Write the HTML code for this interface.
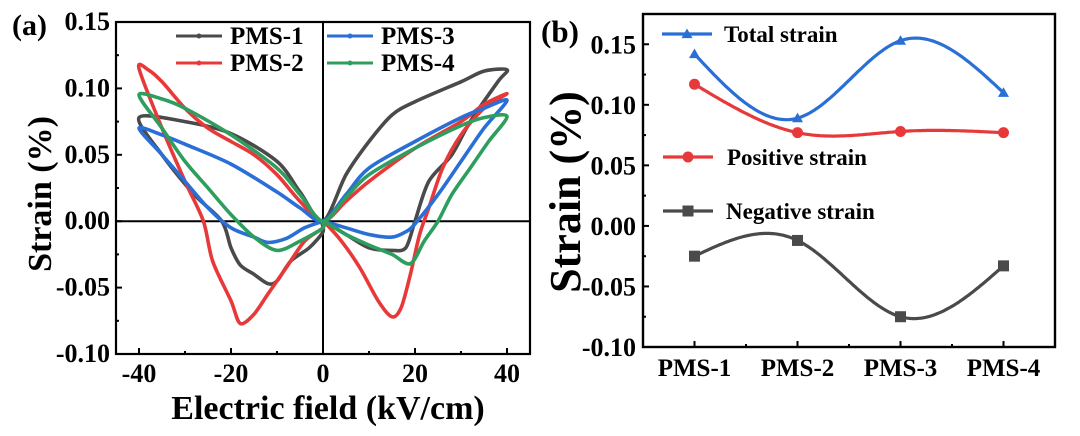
<!DOCTYPE html>
<html><head><meta charset="utf-8">
<style>
html,body{margin:0;padding:0;background:#fff;}
svg{display:block;font-family:"Liberation Serif",serif;font-weight:bold;}
</style></head>
<body>
<svg id="fig" width="1080" height="436" viewBox="0 0 1080 436" xmlns="http://www.w3.org/2000/svg">
<g id="pa"></g>
<g id="pb"></g>
</svg>
<script>
// ---------- Panel (a) data ----------
const aTicksX = [-40, -20, 0, 20, 40];
const aTicksY = [0.15, 0.10, 0.05, 0.00, -0.05, -0.10];
const aTickLabelsY = ["0.15", "0.10", "0.05", "0.00", "-0.05", "-0.10"];
const aSeriesNames = ["PMS-1", "PMS-2", "PMS-3", "PMS-4"];
const aColors = ["#4a4a4a", "#e8393a", "#2a6fd6", "#2e9e5e"];
const pms1X = [0,5,10,15,18,20,23,28,32,38,40, 35,30,20,15,10,5,0, -5,-10,-20,-30,-40, -35,-28,-22,-20,-18,-15,-12,-10,-7,-3,0];
const pms1Y = [0,-0.01,-0.02,-0.022,-0.02,0.0,0.03,0.05,0.075,0.105,0.114, 0.113,0.105,0.09,0.08,0.06,0.035,0, 0.022,0.045,0.066,0.075,0.078, 0.05,0.02,0.0,-0.02,-0.033,-0.04,-0.047,-0.045,-0.03,-0.02,-0.008];
const pms2X = [0,4,8,12,15,17,19,21,23,26,30,35,40, 35,30,20,10,5,0, -5,-10,-15,-20,-25,-30,-35,-38,-40, -35,-30,-26,-24,-20,-18,-15,-12,-8,-4,0];
const pms2Y = [0,-0.015,-0.035,-0.06,-0.072,-0.065,-0.04,-0.01,0.01,0.04,0.065,0.085,0.096, 0.088,0.075,0.055,0.03,0.015,0, 0.015,0.035,0.05,0.06,0.07,0.085,0.105,0.114,0.115, 0.07,0.03,0.0,-0.03,-0.06,-0.077,-0.07,-0.055,-0.035,-0.015,-0.005];
const pms3X = [0,5,10,15,18,20,25,30,35,40, 35,30,20,10,5,0, -5,-10,-20,-30,-35,-40, -35,-30,-25,-20,-15,-12,-8,-4,0];
const pms3Y = [0,-0.005,-0.01,-0.012,-0.008,-0.002,0.02,0.045,0.07,0.091, 0.085,0.078,0.06,0.04,0.02,0, 0.01,0.022,0.043,0.058,0.065,0.07, 0.05,0.03,0.01,-0.005,-0.012,-0.016,-0.013,-0.005,0];
const pms4X = [0,5,10,15,19,22,25,28,32,36,40, 35,30,20,10,5,0, -5,-10,-20,-30,-35,-40, -35,-30,-25,-20,-15,-10,-5,0];
const pms4Y = [0,-0.01,-0.018,-0.025,-0.032,-0.015,0.0,0.02,0.04,0.06,0.079, 0.078,0.072,0.055,0.035,0.018,0, 0.02,0.04,0.065,0.085,0.092,0.095, 0.07,0.045,0.025,0.005,-0.012,-0.022,-0.015,-0.005];
const aSeriesX = [pms1X, pms2X, pms3X, pms4X];
const aSeriesY = [pms1Y, pms2Y, pms3Y, pms4Y];

// ---------- Panel (b) data ----------
const bCategories = ["PMS-1", "PMS-2", "PMS-3", "PMS-4"];
const totalStrain = [0.142, 0.089, 0.153, 0.110];
const positiveStrain = [0.117, 0.077, 0.078, 0.077];
const negativeStrain = [-0.025, -0.012, -0.075, -0.033];
const bTicksY = [0.15, 0.10, 0.05, 0.00, -0.05, -0.10];
const bTickLabelsY = ["0.15", "0.10", "0.05", "0.00", "-0.05", "-0.10"];
const bSeriesNames = ["Total strain", "Positive strain", "Negative strain"];

const NS = "http://www.w3.org/2000/svg";
function mk(tag, attrs, parent) {
  const e = document.createElementNS(NS, tag);
  for (const k in attrs) e.setAttribute(k, attrs[k]);
  parent.appendChild(e);
  return e;
}

// ===== Panel A =====
const pa = document.getElementById("pa");
const A = {l:116, r:530, t:22, b:354, xmin:-45, xmax:45, ymin:-0.10, ymax:0.15};
const ax = v => A.l + (v - A.xmin) / (A.xmax - A.xmin) * (A.r - A.l);
const ay = v => A.b - (v - A.ymin) / (A.ymax - A.ymin) * (A.b - A.t);

let z1 = mk("line", {x1:ax(0), x2:ax(0), y1:A.t, y2:A.b, stroke:"#000", "stroke-width":2}, pa);


let z2 = mk("line", {x1:A.l, x2:A.r, y1:ay(0), y2:ay(0), stroke:"#000", "stroke-width":2}, pa);



function catmullClosed(pts) {
  const n = pts.length;
  let d = "M" + pts[0][0].toFixed(1) + "," + pts[0][1].toFixed(1);
  for (let i = 0; i < n; i++) {
    const p0 = pts[(i - 1 + n) % n], p1 = pts[i], p2 = pts[(i + 1) % n], p3 = pts[(i + 2) % n];
    const k = 0.3;
    const c1 = [p1[0] + (p2[0] - p0[0]) * k / 2, p1[1] + (p2[1] - p0[1]) * k / 2];
    const c2 = [p2[0] - (p3[0] - p1[0]) * k / 2, p2[1] - (p3[1] - p1[1]) * k / 2];
    d += "C" + c1[0].toFixed(1) + "," + c1[1].toFixed(1) + " " + c2[0].toFixed(1) + "," + c2[1].toFixed(1) + " " + p2[0].toFixed(1) + "," + p2[1].toFixed(1);
  }
  return d;
}

for (let s = 0; s < aSeriesX.length; s++) {
  const xs = aSeriesX[s], ys = aSeriesY[s];
  const pts = xs.map((x, i) => [ax(x), ay(ys[i])]);
  const p = mk("path", {d:catmullClosed(pts), fill:"none", stroke:aColors[s], "stroke-width":3.6, "stroke-linejoin":"round"}, pa);
  
  
}

let fa = mk("rect", {x:A.l, y:A.t, width:A.r - A.l, height:A.b - A.t, fill:"none", stroke:"#000", "stroke-width":2.2}, pa);



for (let v = -40; v <= 40; v += 10) {
  const major = v % 20 === 0;
  const t = mk("line", {x1:ax(v), x2:ax(v), y1:A.b, y2:A.b - (major ? 6 : 3), stroke:"#000", "stroke-width":2}, pa);
  
  
}
aTicksX.forEach(v => {
  const t = mk("text", {x:ax(v), y:382, "text-anchor":"middle", "font-size":26}, pa);
  t.textContent = String(v);
  
  
});
for (let i = 0; i <= 10; i++) {
  const v = -0.10 + i * 0.025;
  const major = i % 2 === 0;
  const t = mk("line", {x1:A.l, x2:A.l + (major ? 6 : 3), y1:ay(v), y2:ay(v), stroke:"#000", "stroke-width":2}, pa);
  
  
}
aTicksY.forEach((v, i) => {
  const t = mk("text", {x:110, y:ay(v) + 8, "text-anchor":"end", "font-size":26}, pa);
  t.textContent = aTickLabelsY[i];
  
  
});
let xt = mk("text", {x:328, y:419, "text-anchor":"middle", "font-size":34}, pa);
xt.textContent = "Electric field (kV/cm)";


let yt = mk("text", {x:0, y:0, "text-anchor":"middle", "font-size":34, transform:"translate(51,194) rotate(-90)"}, pa);
yt.textContent = "Strain (%)";


let la = mk("text", {x:12, y:35, "font-size":30}, pa);
la.textContent = "(a)";



const legPos = [[176,36],[176,63],[327,36],[327,63]];
aSeriesNames.forEach((n, s) => {
  const [lx, ly] = legPos[s];
  const g = mk("g", {}, pa);
  
  
  mk("line", {x1:lx, x2:lx + 46, y1:ly, y2:ly, stroke:aColors[s], "stroke-width":3}, g);
  mk("circle", {cx:lx + 23, cy:ly, r:2.5, fill:aColors[s]}, g);
  const t = mk("text", {x:lx + 54, y:ly + 8, "font-size":25}, g);
  t.textContent = n;
});

// ===== Panel B =====
const pb = document.getElementById("pb");
const B = {l:643, r:1055, t:14, b:347, xmin:0.5, xmax:4.5, ymin:-0.10, ymax:0.175};
const bx = i => B.l + (i + 1 - B.xmin) / (B.xmax - B.xmin) * (B.r - B.l);
const by = v => B.b - (v - B.ymin) / (B.ymax - B.ymin) * (B.b - B.t);

function natSpline(xs, ys) {
  const n = xs.length, h = [], al = [], l = [1], mu = [0], z = [0], c = new Array(n).fill(0), b = [], d = [];
  for (let i = 0; i < n - 1; i++) h.push(xs[i + 1] - xs[i]);
  for (let i = 1; i < n - 1; i++) al[i] = 3 / h[i] * (ys[i + 1] - ys[i]) - 3 / h[i - 1] * (ys[i] - ys[i - 1]);
  for (let i = 1; i < n - 1; i++) {
    l[i] = 2 * (xs[i + 1] - xs[i - 1]) - h[i - 1] * mu[i - 1];
    mu[i] = h[i] / l[i];
    z[i] = (al[i] - h[i - 1] * z[i - 1]) / l[i];
  }
  for (let j = n - 2; j >= 0; j--) {
    c[j] = (j === 0) ? 0 : z[j] - mu[j] * c[j + 1];
    b[j] = (ys[j + 1] - ys[j]) / h[j] - h[j] * (c[j + 1] + 2 * c[j]) / 3;
    d[j] = (c[j + 1] - c[j]) / (3 * h[j]);
  }
  return t => {
    let j = Math.min(n - 2, Math.max(0, Math.floor(t - xs[0])));
    const dx = t - xs[j];
    return ys[j] + b[j] * dx + c[j] * dx * dx + d[j] * dx * dx * dx;
  };
}

const bSeries = [totalStrain, positiveStrain, negativeStrain];
const bColors = ["#2a6fd6", "#e8393a", "#4a4a4a"];
const bMarkers = ["tri", "circle", "square"];
function marker(type, x, y, col, parent, size) {
  let m;
  if (type === "tri") m = mk("polygon", {points:`${x},${y - size} ${x - size},${y + size * 0.75} ${x + size},${y + size * 0.75}`, fill:col}, parent);
  else if (type === "circle") m = mk("circle", {cx:x, cy:y, r:size, fill:col}, parent);
  else m = mk("rect", {x:x - size, y:y - size, width:2 * size, height:2 * size, fill:col}, parent);
  return m;
}
bSeries.forEach((vals, s) => {
  const idx = vals.map((_, i) => i);
  const f = natSpline(idx, vals);
  let d = "";
  for (let k = 0; k <= 150; k++) {
    const t = k / 150 * (vals.length - 1);
    d += (k ? "L" : "M") + (bx(0) + t * (bx(1) - bx(0))).toFixed(1) + "," + by(f(t)).toFixed(1);
  }
  const p = mk("path", {d:d, fill:"none", stroke:bColors[s], "stroke-width":3.2}, pb);
  
  
  vals.forEach((v, i) => {
    const m = marker(bMarkers[s], bx(i), by(v), bColors[s], pb, 5.5);
    
    
  });
});

let fb = mk("rect", {x:B.l, y:B.t, width:B.r - B.l, height:B.b - B.t, fill:"none", stroke:"#000", "stroke-width":2.4}, pb);



for (let k = 0; k < 7; k++) {
  const xv = B.l + (k + 1) * (B.r - B.l) / 8;
  const major = k % 2 === 0;
  const t = mk("line", {x1:xv, x2:xv, y1:B.b, y2:B.b - (major ? 6 : 3), stroke:"#000", "stroke-width":2}, pb);
  
  
}
bCategories.forEach((c, i) => {
  const t = mk("text", {x:bx(i), y:376, "text-anchor":"middle", "font-size":25}, pb);
  t.textContent = c;
  
  
});
for (let i = 0; i <= 10; i++) {
  const v = -0.10 + i * 0.025;
  const major = i % 2 === 0;
  const t = mk("line", {x1:B.l, x2:B.l + (major ? 6 : 3), y1:by(v), y2:by(v), stroke:"#000", "stroke-width":2}, pb);
  
  
}
bTicksY.forEach((v, i) => {
  const t = mk("text", {x:636, y:by(v) + 9, "text-anchor":"end", "font-size":26}, pb);
  t.textContent = bTickLabelsY[i];
  
  
});
let ybt = mk("text", {x:0, y:0, "text-anchor":"middle", "font-size":44, transform:"translate(580,192) rotate(-90)"}, pb);
ybt.textContent = "Strain (%)";


let lb = mk("text", {x:541, y:42, "font-size":31}, pb);
lb.textContent = "(b)";



const bLeg = [[662,34,724],[663,157,727],[663,211,726]];
bSeriesNames.forEach((n, s) => {
  const [lx, ly, tx] = bLeg[s];
  const g = mk("g", {}, pb);
  
  
  mk("line", {x1:lx, x2:lx + 50, y1:ly, y2:ly, stroke:bColors[s], "stroke-width":3.2}, g);
  marker(bMarkers[s], lx + 25, ly, bColors[s], g, 5.5);
  const t = mk("text", {x:tx, y:ly + 8, "font-size":23}, g);
  t.textContent = n;
});
</script>
</body></html>
